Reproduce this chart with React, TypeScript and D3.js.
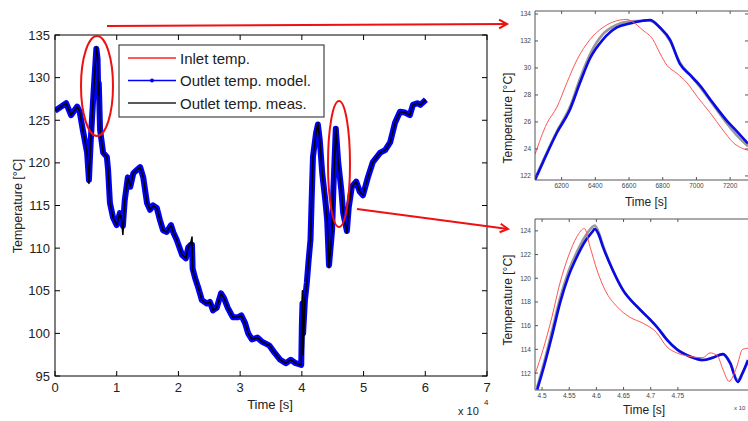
import React from 'react';
import * as d3 from 'd3';

// ---------- main chart data (time in 10^4 s, temperature in °C) ----------
const mainTime = [0.00, 0.18, 0.26, 0.36, 0.40, 0.45, 0.52, 0.55, 0.58, 0.62, 0.67, 0.69, 0.70, 0.71, 0.73, 0.78, 0.84, 0.86, 0.89, 0.94,
  1.00, 1.05, 1.08, 1.10, 1.13, 1.18, 1.22, 1.27, 1.33, 1.38, 1.43, 1.49, 1.54, 1.59, 1.65, 1.70, 1.75, 1.81, 1.88, 1.92,
  1.97, 2.06, 2.12, 2.16, 2.20, 2.22, 2.23, 2.27, 2.32, 2.38, 2.46, 2.51, 2.56, 2.62, 2.69, 2.74, 2.80, 2.88, 2.97, 3.02,
  3.08, 3.13, 3.19, 3.28, 3.36, 3.47, 3.55, 3.65, 3.74, 3.82, 3.90, 3.99, 4.00, 4.01, 4.02, 4.05, 4.08, 4.11, 4.14, 4.16,
  4.18, 4.23, 4.26, 4.29, 4.33, 4.38, 4.41, 4.44, 4.49, 4.51, 4.55, 4.59, 4.64, 4.67, 4.73, 4.76, 4.81, 4.88, 4.94, 4.99,
  5.07, 5.15, 5.27, 5.35, 5.43, 5.51, 5.59, 5.67, 5.75, 5.80, 5.87, 5.92, 6.01];
const outletMeas = [126.1, 127.0, 125.6, 126.6, 126.0, 123.9, 121.2, 117.6, 122.7, 127.7, 133.6, 132.4, 128.0, 129.5, 123.9, 121.2, 120.7, 119.2, 115.3, 113.6,
  112.7, 114.1, 113.3, 111.6, 115.6, 118.3, 117.2, 118.8, 119.2, 119.5, 118.3, 115.3, 114.5, 115.0, 114.7, 113.3, 112.1, 111.9, 112.7, 111.8,
  111.0, 109.2, 108.8, 110.1, 110.6, 111.3, 107.4, 106.5, 105.4, 103.9, 103.5, 103.7, 102.7, 103.0, 104.7, 104.1, 103.0, 101.9, 101.9, 102.1,
  101.2, 100.0, 99.3, 99.5, 99.0, 98.6, 97.8, 96.9, 96.5, 96.9, 96.5, 96.3, 103.1, 105.0, 97.5, 103.9, 105.9, 108.6, 111.0, 116.0,
  120.7, 123.5, 124.7, 122.7, 118.8, 115.6, 113.3, 107.7, 112.1, 116.8, 124.2, 120.0, 116.8, 114.1, 111.8, 114.8, 117.2, 117.8, 116.6, 116.2,
  118.3, 120.1, 121.2, 121.5, 122.4, 124.7, 126.0, 125.9, 125.6, 126.8, 127.0, 126.8, 127.4];
const outletModel = [126.1, 127.0, 125.6, 126.6, 126.0, 123.9, 121.2, 118.0, 122.7, 127.7, 133.4, 132.2, 128.2, 129.3, 123.9, 121.2, 120.7, 119.2, 115.3, 113.6,
  112.7, 114.1, 113.3, 112.6, 115.6, 118.3, 117.2, 118.8, 119.2, 119.5, 118.3, 115.3, 114.5, 115.0, 114.7, 113.3, 112.1, 111.9, 112.7, 111.8,
  111.0, 109.2, 108.8, 110.1, 110.4, 110.4, 107.6, 106.5, 105.4, 103.9, 103.5, 103.7, 102.7, 103.0, 104.7, 104.1, 103.0, 101.9, 101.9, 102.1,
  101.2, 100.0, 99.3, 99.5, 99.0, 98.6, 97.8, 96.9, 96.5, 96.9, 96.5, 96.3, 101.0, 103.5, 100.0, 103.9, 105.9, 108.6, 111.0, 116.0,
  120.7, 123.5, 124.5, 122.7, 118.8, 115.6, 113.3, 108.0, 112.1, 116.8, 124.0, 120.0, 116.8, 114.1, 112.0, 114.8, 117.2, 117.8, 116.6, 116.2,
  118.3, 120.1, 121.2, 121.5, 122.4, 124.7, 126.0, 125.9, 125.6, 126.8, 127.0, 126.8, 127.4];
const mainXTicks = [0, 1, 2, 3, 4, 5, 6, 7];
const mainYTicks = [95, 100, 105, 110, 115, 120, 125, 130, 135];
const legendLabels = ['Inlet temp.', 'Outlet temp. model.', 'Outlet temp. meas.'];

// ---------- top inset data (time in s) ----------
const inlet1Time = [6042, 6113, 6172, 6231, 6291, 6368, 6445, 6504, 6587, 6623, 6682, 6742, 6783, 6825, 6884, 6944, 7003, 7080, 7157, 7216, 7306];
const inlet1Temp = [123.6, 125.9, 127.1, 128.9, 130.6, 132.1, 133.0, 133.4, 133.6, 133.4, 132.8, 132.1, 131.1, 130.2, 129.6, 128.9, 127.9, 126.7, 125.4, 124.5, 123.9];
const model1Time = [6042, 6089, 6172, 6249, 6309, 6368, 6445, 6528, 6605, 6682, 6724, 6783, 6843, 6902, 6961, 7021, 7098, 7180, 7240, 7306];
const model1Temp = [121.7, 123.0, 125.2, 126.9, 128.9, 130.7, 132.1, 133.0, 133.3, 133.5, 133.55, 133.0, 132.1, 130.3, 129.5, 128.7, 127.4, 126.1, 125.3, 124.4];
const meas1Temp = [121.8, 123.1, 125.3, 127.1, 129.2, 131.0, 132.5, 133.2, 133.45, 133.5, 133.5, 133.0, 132.0, 130.4, 129.5, 128.6, 127.3, 125.9, 125.0, 124.2];
const inset1XTicks = [6200, 6400, 6600, 6800, 7000, 7200];
const inset1YTicks = [122, 124, 126, 128, 130, 132, 134];
const inset1YLabels = ['122', '24', '26', '28', '30', '132', '134'];

// ---------- bottom inset data (time in 10^4 s) ----------
const inlet2Time = [4.487, 4.502, 4.518, 4.533, 4.548, 4.564, 4.578, 4.588, 4.601, 4.616, 4.638, 4.662, 4.686, 4.711, 4.730, 4.748, 4.772, 4.796, 4.809, 4.822, 4.833, 4.844, 4.858, 4.869, 4.879];
const inlet2Temp = [111.9, 114.0, 116.7, 119.6, 121.8, 123.5, 124.2, 122.7, 120.7, 119.0, 117.6, 116.7, 116.2, 115.4, 114.2, 113.7, 113.4, 113.3, 113.7, 113.5, 112.3, 111.3, 112.5, 114.0, 114.1];
const model2Time = [4.491, 4.502, 4.518, 4.533, 4.548, 4.564, 4.579, 4.592, 4.597, 4.603, 4.612, 4.630, 4.649, 4.675, 4.699, 4.713, 4.730, 4.748, 4.772, 4.796, 4.814, 4.833, 4.846, 4.860, 4.869, 4.879];
const model2Temp = [110.6, 112.3, 115.1, 117.9, 120.1, 121.8, 123.1, 123.9, 124.15, 123.8, 122.65, 120.7, 119.0, 117.6, 116.5, 115.8, 114.8, 114.0, 113.4, 113.1, 113.3, 113.6, 112.85, 111.25, 112.0, 113.1];
const meas2Temp = [110.8, 112.6, 115.5, 118.3, 120.5, 122.2, 123.5, 124.3, 124.45, 124.0, 122.8, 120.7, 119.0, 117.6, 116.5, 115.8, 114.8, 114.0, 113.4, 113.1, 113.3, 113.6, 112.9, 111.4, 112.0, 113.0];
const inset2XTicks = [4.5, 4.55, 4.6, 4.65, 4.7, 4.75];
const inset2XLabels = ['4.5', '4.55', '4.6', '4.65', '4.7', '4.75'];
const inset2YTicks = [112, 114, 116, 118, 120, 122, 124];

const FONT = 'Arial, "Liberation Sans", Helvetica, sans-serif';

function zip(xs: number[], ys: number[]): [number, number][] {
  return xs.map((v, i) => [v, ys[i]]);
}

export default function App() {
  // main scales
  const x = d3.scaleLinear().domain([0, 7]).range([55, 487]);
  const y = d3.scaleLinear().domain([95, 135]).range([376, 35]);
  const mainLine = d3.line<[number, number]>().x(d => x(d[0])).y(d => y(d[1]));

  // inset 1 scales
  const x1 = d3.scaleLinear().domain([6042, 7306]).range([535, 748]);
  const y1 = d3.scaleLinear().domain([121.7, 134.22]).range([180, 11]);
  const line1 = d3.line<[number, number]>().x(d => x1(d[0])).y(d => y1(d[1])).curve(d3.curveMonotoneX);

  // inset 2 scales
  const x2 = d3.scaleLinear().domain([4.487, 4.879]).range([535, 748]);
  const y2 = d3.scaleLinear().domain([110.57, 125.0]).range([390, 219]);
  const line2 = d3.line<[number, number]>().x(d => x2(d[0])).y(d => y2(d[1])).curve(d3.curveMonotoneX);

  const red = '#ee1111';

  const arrowHead = (x0: number, y0: number, x1e: number, y1e: number) => {
    const ang = Math.atan2(y1e - y0, x1e - x0);
    const L = 9, a = 0.5;
    const p1 = [x1e - L * Math.cos(ang - a), y1e - L * Math.sin(ang - a)];
    const p2 = [x1e - L * Math.cos(ang + a), y1e - L * Math.sin(ang + a)];
    return `M${p1[0]},${p1[1]}L${x1e},${y1e}L${p2[0]},${p2[1]}`;
  };

  return (
    <svg width={748} height={421} style={{ position: 'absolute', left: 0, top: 0, background: '#fff' }}
      fontFamily={FONT}>
      <defs>
        <clipPath id="clipMain"><rect x={55} y={35} width={432} height={341} /></clipPath>
        <clipPath id="clip1"><rect x={535} y={11} width={213} height={169} /></clipPath>
        <clipPath id="clip2"><rect x={535} y={219} width={213} height={171} /></clipPath>
      </defs>
      <rect x={0} y={0} width={748} height={421} fill="#fff" />

      {/* ---------------- main chart ---------------- */}
      <g clipPath="url(#clipMain)">
        <path d={mainLine(zip(mainTime, outletModel)) || ''} fill="none" stroke="#0000ff" strokeWidth={6} strokeLinejoin="round" />
        <path d={mainLine(zip(mainTime, outletMeas)) || ''} fill="none" stroke="#000" strokeWidth={1.6} strokeLinejoin="round" />
      </g>
      <rect x={55} y={35} width={432} height={341} fill="none" stroke="#000" strokeWidth={1} />
      {mainXTicks.map(t => (
        <g key={'mx' + t}>
          <line x1={x(t)} x2={x(t)} y1={376} y2={371} stroke="#000" />
          <line x1={x(t)} x2={x(t)} y1={35} y2={40} stroke="#000" />
          <text x={x(t)} y={392} fontSize={13} textAnchor="middle" fill="#222">{t}</text>
        </g>
      ))}
      {mainYTicks.map(v => (
        <g key={'my' + v}>
          <line x1={55} x2={60} y1={y(v)} y2={y(v)} stroke="#000" />
          <line x1={487} x2={482} y1={y(v)} y2={y(v)} stroke="#000" />
          <text x={50} y={y(v) + 4.5} fontSize={13} textAnchor="end" fill="#222">{v}</text>
        </g>
      ))}
      <text x={270} y={409} fontSize={13} textAnchor="middle" fill="#222">Time [s]</text>
      <text x={458} y={415} fontSize={11} fill="#222">x 10</text>
      <text x={484} y={405} fontSize={8} fill="#222">4</text>
      <text transform="translate(22,206) rotate(-90)" fontSize={12.5} textAnchor="middle" fill="#222">Temperature [°C]</text>

      {/* legend */}
      <rect x={119} y={45} width={205} height={72} fill="#fff" stroke="#444" strokeWidth={1.2} />
      {legendLabels.map((lab, i) => {
        const ly = 58 + i * 22.5;
        const col = i === 0 ? '#ff2222' : i === 1 ? '#0000ff' : '#222';
        return (
          <g key={lab}>
            <line x1={128} x2={176} y1={ly} y2={ly} stroke={col} strokeWidth={1.3} />
            {i === 1 && <circle cx={152} cy={ly} r={2} fill={col} />}
            <text x={180} y={ly + 5.5} fontSize={15} fill="#222">{lab}</text>
          </g>
        );
      })}

      {/* ellipses and arrows */}
      <ellipse cx={97} cy={86} rx={16} ry={50} fill="none" stroke={red} strokeWidth={2} />
      <ellipse cx={339} cy={164} rx={11} ry={63} fill="none" stroke={red} strokeWidth={2} />
      <line x1={107} y1={26} x2={507} y2={24} stroke={red} strokeWidth={2} />
      <path d={arrowHead(107, 26, 507, 24)} fill="none" stroke={red} strokeWidth={2} />
      <line x1={357} y1={209} x2={508} y2={229} stroke={red} strokeWidth={2} />
      <path d={arrowHead(357, 209, 508, 229)} fill="none" stroke={red} strokeWidth={2} />

      {/* ---------------- top inset ---------------- */}
      <g clipPath="url(#clip1)">
        <path d={line1(zip(model1Time, meas1Temp)) || ''} fill="none" stroke="#999" strokeWidth={2.6} />
        <path d={line1(zip(model1Time, model1Temp)) || ''} fill="none" stroke="#0a0ae6" strokeWidth={2.6} />
        <path d={line1(zip(inlet1Time, inlet1Temp)) || ''} fill="none" stroke="#ff5555" strokeWidth={1} />
      </g>
      <path d="M535,180L535,11L750,11" fill="none" stroke="#555" strokeWidth={1} />
      <line x1={535} x2={750} y1={180} y2={180} stroke="#555" strokeWidth={1} />
      {inset1XTicks.map(t => (
        <g key={'ax' + t}>
          <line x1={x1(t)} x2={x1(t)} y1={180} y2={177} stroke="#555" />
          <line x1={x1(t)} x2={x1(t)} y1={11} y2={14} stroke="#555" />
          <text x={x1(t)} y={188} fontSize={6.5} textAnchor="middle" fill="#444">{t}</text>
        </g>
      ))}
      {inset1YTicks.map((v, i) => (
        <g key={'ay' + v}>
          <line x1={535} x2={538} y1={y1(v)} y2={y1(v)} stroke="#555" />
          <line x1={748} x2={745} y1={y1(v)} y2={y1(v)} stroke="#555" />
          <text x={531} y={y1(v) + 2.5} fontSize={6.5} textAnchor="end" fill="#444">{inset1YLabels[i]}</text>
        </g>
      ))}
      <text x={646} y={206} fontSize={12} textAnchor="middle" fill="#222">Time [s]</text>
      <text transform="translate(512,118) rotate(-90)" fontSize={12} textAnchor="middle" fill="#222">Temperature [°C]</text>

      {/* ---------------- bottom inset ---------------- */}
      <g clipPath="url(#clip2)">
        <path d={line2(zip(model2Time, meas2Temp)) || ''} fill="none" stroke="#999" strokeWidth={2.6} />
        <path d={line2(zip(model2Time, model2Temp)) || ''} fill="none" stroke="#0a0ae6" strokeWidth={2.6} />
        <path d={line2(zip(inlet2Time, inlet2Temp)) || ''} fill="none" stroke="#ff5555" strokeWidth={1} />
      </g>
      <path d="M535,390L535,219L750,219" fill="none" stroke="#555" strokeWidth={1} />
      <line x1={535} x2={750} y1={390} y2={390} stroke="#555" strokeWidth={1} />
      {inset2XTicks.map((t, i) => (
        <g key={'bx' + t}>
          <line x1={x2(t)} x2={x2(t)} y1={390} y2={387} stroke="#555" />
          <line x1={x2(t)} x2={x2(t)} y1={219} y2={222} stroke="#555" />
          <text x={x2(t)} y={398} fontSize={6.5} textAnchor="middle" fill="#444">{inset2XLabels[i]}</text>
        </g>
      ))}
      {inset2YTicks.map(v => (
        <g key={'by' + v}>
          <line x1={535} x2={538} y1={y2(v)} y2={y2(v)} stroke="#555" />
          <text x={531} y={y2(v) + 2.5} fontSize={6.5} textAnchor="end" fill="#444">{v}</text>
        </g>
      ))}
      <text x={644} y={414} fontSize={12} textAnchor="middle" fill="#222">Time [s]</text>
      <text x={734} y={410} fontSize={6} fill="#444">x 10</text>
      <text transform="translate(512,300) rotate(-90)" fontSize={12} textAnchor="middle" fill="#222">Temperature [°C]</text>
    </svg>
  );
}
